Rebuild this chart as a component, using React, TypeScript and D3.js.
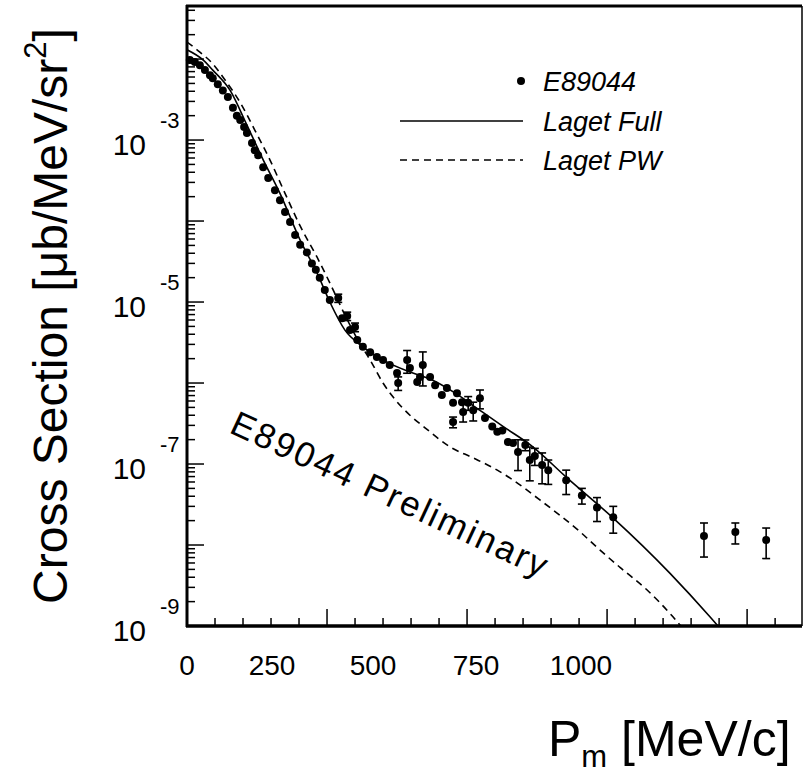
import React from 'react';
import * as d3 from 'd3';

// E89044 measured points: missing momentum [MeV/c], cross section [ub/MeV/sr^2], error
const dataPm = [5, 14, 23, 32, 41, 46, 55, 64, 73, 82, 89, 95, 102, 107, 116, 121, 127, 136, 145, 157,
  166, 175, 184, 193, 202, 214, 223, 230, 237, 246, 255, 270, 277, 286, 291, 300, 304, 314, 327, 339,
  350, 362, 375, 377, 393, 398, 411, 416, 421, 434, 443, 455, 464, 475, 482, 491, 502, 523, 475, 493,
  511, 532, 545, 554, 563, 573, 582, 591, 604, 612, 621, 634, 645, 677, 705, 732, 761, 923, 979, 1034];
const dataXs = [9.7e-3, 9.2e-3, 8.4e-3, 7.3e-3, 6.3e-3, 5.8e-3, 4.9e-3, 4.1e-3, 3.4e-3, 2.5e-3,
  2.0e-3, 1.77e-3, 1.45e-3, 1.22e-3, 9.2e-4, 7.5e-4, 6.5e-4, 4.6e-4, 3.4e-4, 2.4e-4,
  1.8e-4, 1.29e-4, 9.7e-5, 6.7e-5, 5.1e-5, 4.1e-5, 3.0e-5, 2.5e-5, 2.0e-5, 1.41e-5,
  1.06e-5, 1.12e-5, 6.3e-6, 6.7e-6, 4.5e-6, 4.9e-6, 3.4e-6, 2.8e-6, 2.4e-6, 2.1e-6,
  1.92e-6, 1.67e-6, 1.33e-6, 1.0e-6, 1.92e-6, 1.53e-6, 1.03e-6, 1.19e-6, 1.67e-6, 1.19e-6,
  9.4e-7, 7.1e-7, 8.7e-7, 5.7e-7, 7.5e-7, 5.8e-7, 5.7e-7, 6.5e-7, 3.3e-7, 4.4e-7,
  4.6e-7, 3.7e-7, 2.9e-7, 2.5e-7, 2.6e-7, 1.87e-7, 1.82e-7, 1.41e-7, 1.72e-7, 1.12e-7,
  1.26e-7, 9.7e-8, 8.4e-8, 6.3e-8, 4.1e-8, 2.9e-8, 2.2e-8, 1.29e-8, 1.45e-8, 1.15e-8];
const dataErr = [0, 0, 0, 0, 0, 0, 0, 0, 0, 0,
  0, 0, 0, 0, 0, 0, 0, 0, 0, 0,
  0, 0, 0, 0, 0, 0, 0, 0, 0, 0,
  0, 1.3e-6, 0, 0.8e-6, 0, 0.6e-6, 0, 0, 0, 0,
  0, 0, 0, 0.19e-6, 0.6e-6, 0, 0, 0, 0.75e-6, 0,
  0, 0, 0, 0, 0, 0, 1.1e-7, 1.7e-7, 0.5e-7, 1.1e-7,
  1.2e-7, 0, 0, 0, 0, 0, 0, 0.58e-7, 0.26e-7, 0.5e-7,
  0.3e-7, 0.4e-7, 0.28e-7, 0.21e-7, 0.9e-8, 0.95e-8, 0.8e-8, 0.58e-8, 0.42e-8, 0.47e-8];

// Laget full calculation
const fullPm = [0, 29, 46, 77, 107, 136, 166, 202, 234, 255, 282, 314, 350, 398, 434, 479, 523, 568, 613, 679, 761, 862, 934, 960];
const fullXs = [1.3e-2, 9.7e-3, 7.3e-3, 4.1e-3, 1.53e-3, 5.7e-4, 2.2e-4, 5.8e-5, 2.15e-5, 1.0e-5, 4.5e-6, 2.8e-6,
  1.92e-6, 1.37e-6, 1.12e-6, 7.5e-7, 4.6e-7, 2.8e-7, 1.72e-7, 6.7e-8, 2.15e-8, 4.5e-9, 1.29e-9, 8e-10];

// Laget plane wave
const pwPm = [0, 23, 45, 68, 95, 121, 148, 175, 202, 232, 255, 282, 305, 327, 350, 368, 398, 425, 470, 511, 554, 577, 630, 702, 737, 773, 821, 868, 900];
const pwXs = [1.62e-2, 1.22e-2, 8.9e-3, 5.5e-3, 2.9e-3, 1.33e-3, 5.7e-4, 2.2e-4, 8.7e-5, 3.6e-5, 1.72e-5, 6.9e-6,
  3.4e-6, 1.92e-6, 1.0e-6, 6.7e-7, 4.0e-7, 2.8e-7, 1.62e-7, 1.19e-7, 8.4e-8, 6.7e-8, 3.6e-8, 1.45e-8, 8.7e-9,
  5.3e-9, 2.8e-9, 1.29e-9, 7e-10];

const xTickLabels = [0, 250, 500, 750, 1000];
const yTickExps = [-3, -5, -7, -9];

const font = '"Liberation Sans", Arial, Helvetica, sans-serif';

const App = () => {
  const left = 187, right = 802, top = 6, bottom = 626;
  const x = d3.scaleLinear().domain([0, 1098]).range([left, right]);
  const y = d3.scaleLog().domain([1e-9, Math.pow(10, -1.345)]).range([bottom, top]);
  // tick labels sit a little off the tick marks in the original figure
  const xLab = d3.scaleLinear().domain(xTickLabels).range([187, 272, 373, 476, 581]);

  const fullLine = d3.line<number>()
    .x((d, i) => x(fullPm[i]))
    .y((d) => y(d))
    .curve(d3.curveMonotoneX);
  const pwLine = d3.line<number>()
    .x((d, i) => x(pwPm[i]))
    .y((d) => y(d))
    .curve(d3.curveMonotoneX);

  const yTicks = y.ticks();
  const isDecade = (v: number) => Math.abs(Math.log10(v) - Math.round(Math.log10(v))) < 1e-6;
  const xTicks = d3.range(50, 1098, 50);

  return (
    <svg width={803} height={777} style={{ position: 'absolute', left: 0, top: 0, background: '#fff' }}>
      <defs>
        <clipPath id="plot">
          <rect x={left} y={top} width={right - left} height={bottom - top} />
        </clipPath>
      </defs>

      {/* curves */}
      <g clipPath="url(#plot)" fill="none" stroke="#000">
        <path d={fullLine(fullXs) || ''} strokeWidth={1.6} />
        <path d={pwLine(pwXs) || ''} strokeWidth={1.6} strokeDasharray="7,5" />
      </g>

      {/* data */}
      <g stroke="#000" strokeWidth={1.6}>
        {dataPm.map((pm, i) => {
          const cx = x(pm);
          const e = dataErr[i];
          if (!e) return null;
          const y1 = y(dataXs[i] + e);
          const y2 = y(Math.max(dataXs[i] - e, 1e-12));
          return (
            <g key={'e' + i}>
              <line x1={cx} x2={cx} y1={y1} y2={y2} />
              <line x1={cx - 4} x2={cx + 4} y1={y1} y2={y1} />
              <line x1={cx - 4} x2={cx + 4} y1={y2} y2={y2} />
            </g>
          );
        })}
      </g>
      <g fill="#000">
        {dataPm.map((pm, i) => (
          <circle key={'p' + i} cx={x(pm)} cy={y(dataXs[i])} r={4} />
        ))}
      </g>

      {/* frame */}
      <g stroke="#000">
        <line x1={left} x2={left} y1={top - 1} y2={bottom + 1} strokeWidth={3} />
        <line x1={left - 1} x2={right} y1={bottom} y2={bottom} strokeWidth={3.5} />
        <line x1={left - 1} x2={right} y1={top} y2={top} strokeWidth={3} />
        <line x1={right} x2={right} y1={top} y2={bottom} strokeWidth={1.5} />
      </g>

      {/* y ticks */}
      <g stroke="#000" strokeWidth={1.5}>
        {yTicks.map((t, i) => (
          <line key={i} x1={left} x2={left + (isDecade(t) ? 17 : 8)} y1={y(t)} y2={y(t)} />
        ))}
      </g>
      {/* x ticks */}
      <g stroke="#000" strokeWidth={1.5}>
        {xTicks.map((t, i) => (
          <line key={i} x1={x(t)} x2={x(t)} y1={bottom} y2={bottom - (t % 250 === 0 ? 17 : 8)} />
        ))}
      </g>

      {/* y tick labels */}
      <g fontFamily={font} fill="#000">
        {yTickExps.map((e) => {
          const ty = y(Math.pow(10, e));
          return (
            <g key={e}>
              <text x={146} y={ty + 15} fontSize={30} textAnchor="end">10</text>
              <text x={160} y={ty - 12} fontSize={22}>{e}</text>
            </g>
          );
        })}
      </g>

      {/* x tick labels */}
      <g fontFamily={font} fill="#000" fontSize={28} textAnchor="middle">
        {xTickLabels.map((v) => (
          <text key={v} x={xLab(v)} y={675}>{v}</text>
        ))}
      </g>

      {/* axis titles */}
      <text
        transform="translate(67, 316) rotate(-90)"
        fontFamily={font}
        fontSize={48}
        textAnchor="middle"
        fill="#000"
      >
        Cross Section [μb/MeV/sr<tspan fontSize={31} dy={-21}>2</tspan><tspan dy={21}>]</tspan>
      </text>
      <text x={548} y={756} fontFamily={font} fontSize={50} fill="#000">
        P<tspan fontSize={31} dy={11}>m</tspan><tspan dy={-11}> [MeV/c]</tspan>
      </text>

      {/* legend */}
      <g fontFamily={font} fontStyle="italic" fontSize={27} fill="#000">
        <circle cx={521} cy={81} r={4} />
        <text x={543} y={91}>E89044</text>
        <line x1={400} x2={523} y1={121} y2={121} stroke="#000" strokeWidth={1.4} />
        <text x={543} y={131}>Laget Full</text>
        <line x1={400} x2={523} y1={160} y2={160} stroke="#000" strokeWidth={1.4} strokeDasharray="7,5" />
        <text x={543} y={170}>Laget PW</text>
      </g>

      {/* watermark */}
      <text
        transform="translate(228, 432) rotate(25)"
        fontFamily={font}
        fontSize={35}
        fontWeight={300}
        textLength={345}
        lengthAdjust="spacing"
        fill="#000"
      >
        E89044 Preliminary
      </text>
    </svg>
  );
};

export default App;
